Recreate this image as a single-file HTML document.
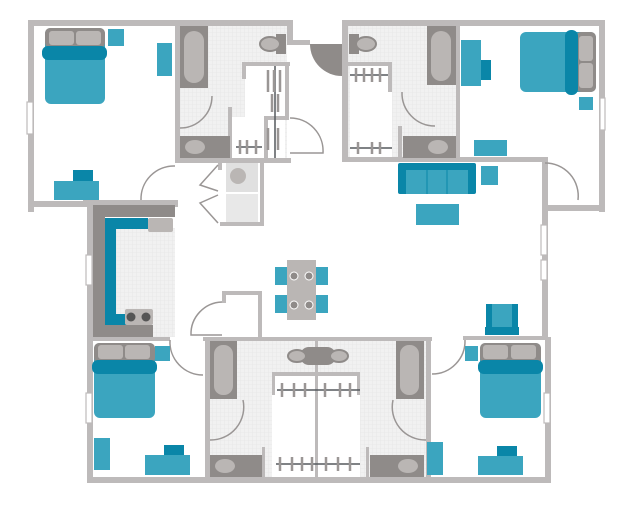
<!DOCTYPE html>
<html><head><meta charset="utf-8"><style>html,body{margin:0;padding:0;background:#fff}svg{display:block}</style></head>
<body>
<svg width="640" height="510" viewBox="0 0 640 510" xmlns="http://www.w3.org/2000/svg">
<defs>
<pattern id="tile" width="4" height="4" patternUnits="userSpaceOnUse"><rect width="4" height="4" fill="#f1f1f1"/><path d="M0 0H4M0 0V4" stroke="#e2e2e2" stroke-width="0.6"/></pattern>
</defs>
<g fill="url(#tile)">
<rect x="180" y="26" width="107" height="134"/>
<rect x="348" y="26" width="110" height="134"/>
<rect x="115" y="228" width="60" height="109"/>
<rect x="210" y="340" width="216" height="137"/>
</g>
<g fill="#fff">
<rect x="245" y="66" width="40" height="94"/>
<rect x="230" y="117" width="40" height="43"/>
<rect x="350" y="65" width="42" height="93"/>
<rect x="272" y="375" width="88" height="102"/>
</g>
<g fill="#bdbaba">
<rect x="28" y="20" width="265" height="6"/>
<rect x="28" y="20" width="6" height="192"/>
<rect x="28" y="201" width="150" height="6"/>
<rect x="175" y="26" width="5" height="136"/>
<rect x="175" y="158" width="116" height="5"/>
<rect x="287" y="20" width="6" height="24"/>
<rect x="287" y="40" width="23" height="5"/>
<rect x="242" y="62" width="48" height="4"/>
<rect x="242" y="62" width="4" height="17"/>
<rect x="285" y="62" width="4" height="58"/>
<rect x="264" y="116" width="25" height="4"/>
<rect x="264" y="116" width="4" height="44"/>
<rect x="228" y="107" width="4" height="53"/>
<rect x="342" y="20" width="263" height="6"/>
<rect x="342" y="20" width="6" height="142"/>
<rect x="599" y="20" width="6" height="192"/>
<rect x="342" y="157" width="206" height="5"/>
<rect x="542" y="157" width="6" height="55"/>
<rect x="542" y="205" width="63" height="6"/>
<rect x="542" y="205" width="6" height="135"/>
<rect x="348" y="62" width="44" height="4"/>
<rect x="388" y="62" width="4" height="30"/>
<rect x="456" y="26" width="4" height="134"/>
<rect x="398" y="126" width="4" height="34"/>
<rect x="83" y="200" width="95" height="5"/>
<rect x="87" y="200" width="6" height="283"/>
<rect x="87" y="337" width="83" height="4"/>
<rect x="87" y="477" width="460" height="6"/>
<rect x="545" y="337" width="6" height="146"/>
<rect x="463" y="336" width="85" height="4"/>
<rect x="203" y="337" width="229" height="4"/>
<rect x="205" y="337" width="5" height="140"/>
<rect x="426" y="337" width="5" height="140"/>
<rect x="315" y="340" width="3" height="137"/>
<rect x="272" y="372" width="88" height="4"/>
<rect x="272" y="372" width="3" height="23"/>
<rect x="357" y="372" width="3" height="23"/>
<rect x="262" y="447" width="3" height="30"/>
<rect x="366" y="447" width="3" height="30"/>
<rect x="258" y="291" width="4" height="47"/>
<rect x="222" y="291" width="40" height="4"/>
<rect x="222" y="291" width="4" height="12"/>
<rect x="218" y="162" width="4" height="8"/>
<rect x="220" y="222" width="44" height="4"/>
<rect x="260" y="162" width="4" height="64"/>
</g>
<g fill="#fff" stroke="#bdbaba" stroke-width="1.2">
<rect x="27" y="102" width="6" height="32"/>
<rect x="600" y="98" width="5" height="32"/>
<rect x="86" y="255" width="6" height="30"/>
<rect x="86" y="393" width="6" height="30"/>
<rect x="541" y="225" width="6" height="30"/>
<rect x="541" y="260" width="6" height="20"/>
<rect x="544" y="393" width="6" height="30"/>
</g>
<g fill="none" stroke="#9a9695" stroke-width="1.5">
<path d="M180 128 A32 32 0 0 0 212 96"/>
<path d="M141 200 A33 33 0 0 1 175 166"/>
<path d="M290 118 A33 33 0 0 1 323 153 H290"/>
<path d="M402 92 A33 33 0 0 0 435 126"/>
<path d="M545 163 A33 33 0 0 1 578 200"/>
<path d="M170 340 A33 33 0 0 0 203 375"/>
<path d="M222 302 A32 32 0 0 0 191 335 H222"/>
<path d="M243 400 A33 33 0 0 1 210 440"/>
<path d="M393 400 A33 33 0 0 0 426 440"/>
<path d="M432 374 A33 33 0 0 0 465 340"/>
<path d="M218 165 L200 185 L218 191 M218 195 L200 203 L218 223"/>
</g>
<path d="M310 44 A32 32 0 0 0 342 76 V44 Z" fill="#8f8b89"/>
<rect x="226" y="163" width="32" height="29" fill="#e0e0e0"/>
<rect x="226" y="194" width="32" height="28" fill="#e8e8e8"/>
<circle cx="238" cy="176" r="8" fill="#bab6b4"/>
<g>
<rect x="180" y="26" width="28" height="62" fill="#8f8b89"/><rect x="184" y="31" width="20" height="52" rx="10" fill="#bab6b4"/>
<rect x="180" y="136" width="50" height="22" fill="#8f8b89"/><ellipse cx="195" cy="147" rx="10" ry="7" fill="#bab6b4"/>
<rect x="427" y="26" width="29" height="59" fill="#8f8b89"/><rect x="431" y="31" width="20" height="50" rx="10" fill="#bab6b4"/>
<rect x="403" y="136" width="53" height="22" fill="#8f8b89"/><ellipse cx="438" cy="147" rx="10" ry="7" fill="#bab6b4"/>
<rect x="210" y="341" width="27" height="58" fill="#8f8b89"/><rect x="214" y="345" width="19" height="50" rx="9" fill="#bab6b4"/>
<rect x="396" y="341" width="28" height="58" fill="#8f8b89"/><rect x="400" y="345" width="19" height="50" rx="9" fill="#bab6b4"/>
<rect x="210" y="455" width="52" height="22" fill="#8f8b89"/><ellipse cx="225" cy="466" rx="10" ry="7" fill="#bab6b4"/>
<rect x="370" y="455" width="54" height="22" fill="#8f8b89"/><ellipse cx="408" cy="466" rx="10" ry="7" fill="#bab6b4"/>
<rect x="276" y="34" width="10" height="20" fill="#8f8b89"/><ellipse cx="270" cy="44" rx="10" ry="7" fill="#bab6b4" stroke="#8f8b89" stroke-width="2"/>
<rect x="349" y="34" width="10" height="20" fill="#8f8b89"/><ellipse cx="366" cy="44" rx="10" ry="7" fill="#bab6b4" stroke="#8f8b89" stroke-width="2"/>
<rect x="300" y="347" width="36" height="18" rx="9" fill="#8f8b89"/><ellipse cx="297" cy="356" rx="9" ry="6" fill="#bab6b4" stroke="#8f8b89" stroke-width="2"/><ellipse cx="339" cy="356" rx="9" ry="6" fill="#bab6b4" stroke="#8f8b89" stroke-width="2"/>
</g>
<g stroke="#55595d" stroke-width="1.5">
<path d="M275 66V158M236 147H262M350 75H388M350 148H392M277 390H360M276 464H360"/>
</g>
<g stroke="#9a9695" stroke-width="2.5">
<path d="M268 70V92M274 70V92M280 70V92M272 94V112M278 94V112M268 128V150M278 128V150M240 140V154M247 140V154M256 140V154M356 68V82M364 68V82M372 68V82M380 68V82M358 142V154M372 142V154M380 142V154M282 383V397M294 383V397M305 383V397M325 383V397M340 383V397M350 383V397M280 457V471M292 457V471M302 457V471M312 457V471M326 457V471M338 457V471M350 457V471"/>
</g>
<rect x="93" y="205" width="82" height="12" fill="#8f8b89"/>
<rect x="93" y="205" width="12" height="132" fill="#8f8b89"/>
<rect x="93" y="325" width="60" height="12" fill="#8f8b89"/>
<rect x="105" y="218" width="43" height="11" fill="#0a86a8"/>
<rect x="105" y="218" width="11" height="107" fill="#0a86a8"/>
<rect x="105" y="314" width="22" height="11" fill="#0a86a8"/>
<rect x="148" y="218" width="25" height="14" rx="2" fill="#bab6b4"/>
<rect x="125" y="309" width="28" height="16" rx="2" fill="#bab6b4"/>
<circle cx="131" cy="317" r="4.5" fill="#555"/><circle cx="146" cy="317" r="4.5" fill="#555"/>
<g>
<rect x="45" y="28" width="60" height="76" rx="6" fill="#3ba5bf"/><rect x="45" y="28" width="60" height="20" rx="5" fill="#8f8b89"/><rect x="49" y="31" width="25" height="14" rx="3" fill="#bab6b4"/><rect x="76" y="31" width="25" height="14" rx="3" fill="#bab6b4"/><rect x="42" y="46" width="65" height="14" rx="6" fill="#0a86a8"/>
<rect x="520" y="32" width="76" height="60" rx="6" fill="#3ba5bf"/><rect x="576" y="32" width="20" height="60" rx="5" fill="#8f8b89"/><rect x="579" y="36" width="14" height="25" rx="3" fill="#bab6b4"/><rect x="579" y="63" width="14" height="25" rx="3" fill="#bab6b4"/><rect x="565" y="30" width="13" height="65" rx="6" fill="#0a86a8"/>
<rect x="94" y="343" width="61" height="75" rx="6" fill="#3ba5bf"/><rect x="94" y="343" width="61" height="20" rx="5" fill="#8f8b89"/><rect x="98" y="345" width="25" height="14" rx="3" fill="#bab6b4"/><rect x="125" y="345" width="25" height="14" rx="3" fill="#bab6b4"/><rect x="92" y="360" width="65" height="14" rx="6" fill="#0a86a8"/>
<rect x="480" y="343" width="61" height="75" rx="6" fill="#3ba5bf"/><rect x="480" y="343" width="61" height="20" rx="5" fill="#8f8b89"/><rect x="483" y="345" width="25" height="14" rx="3" fill="#bab6b4"/><rect x="511" y="345" width="25" height="14" rx="3" fill="#bab6b4"/><rect x="478" y="360" width="65" height="14" rx="6" fill="#0a86a8"/>
</g>
<g fill="#3ba5bf">
<rect x="108" y="29" width="16" height="17"/><rect x="157" y="43" width="15" height="33"/>
<rect x="54" y="181" width="45" height="19"/>
<rect x="461" y="40" width="20" height="46"/><rect x="579" y="97" width="14" height="13"/>
<rect x="474" y="140" width="33" height="16"/><rect x="481" y="166" width="17" height="19"/><rect x="416" y="204" width="43" height="21"/>
<rect x="155" y="346" width="15" height="15"/><rect x="94" y="438" width="16" height="32"/><rect x="145" y="455" width="45" height="20"/>
<rect x="465" y="346" width="13" height="15"/><rect x="427" y="442" width="16" height="33"/><rect x="478" y="456" width="45" height="19"/>
<rect x="486" y="304" width="32" height="31"/>
<rect x="275" y="267" width="12" height="18"/><rect x="316" y="267" width="12" height="18"/><rect x="275" y="295" width="12" height="18"/><rect x="316" y="295" width="12" height="18"/>
</g>
<g fill="#0a86a8">
<rect x="73" y="170" width="20" height="11"/><rect x="481" y="60" width="10" height="20"/>
<rect x="398" y="163" width="78" height="31" rx="2"/>
<rect x="164" y="445" width="20" height="10"/><rect x="497" y="446" width="20" height="10"/>
<rect x="486" y="304" width="6" height="31"/><rect x="512" y="304" width="6" height="31"/><rect x="485" y="327" width="34" height="8"/>
</g>
<rect x="406" y="170" width="62" height="24" fill="#3ba5bf"/>
<path d="M427 170V194M447 170V194" stroke="#0a86a8" stroke-width="1"/>
<rect x="287" y="260" width="29" height="60" fill="#bab6b4"/>
<g fill="#8f8b89" stroke="#fff" stroke-width="1"><circle cx="294" cy="276" r="4"/><circle cx="309" cy="276" r="4"/><circle cx="294" cy="305" r="4"/><circle cx="309" cy="305" r="4"/></g>
</svg>
</body></html>
